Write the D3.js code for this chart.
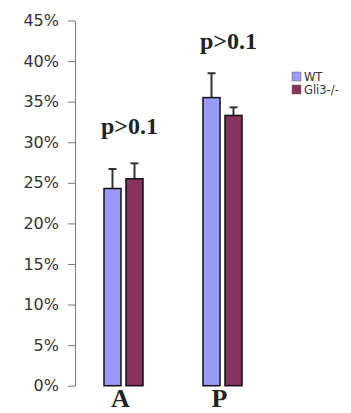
<!DOCTYPE html>
<html>
<head>
<meta charset="utf-8">
<script src="https://cdn.jsdelivr.net/npm/d3@7"></script>
<style>
  body { margin: 0; background: #fff; }
  svg { display: block; }
</style>
</head>
<body>
<div id="chart"></div>
<script>
const categories = ["A", "P"];
const groups = ["WT", "Gli3-/-"];
const wtValues = [0.243, 0.355];
const wtErrors = [0.024, 0.030];
const gliValues = [0.255, 0.333];
const gliErrors = [0.019, 0.010];
const yTicks = [0, 0.05, 0.10, 0.15, 0.20, 0.25, 0.30, 0.35, 0.40, 0.45];
const pLabels = [
    {cat: "A", text: "p>0.1", y: 0.31},
    {cat: "P", text: "p>0.1", y: 0.415}
];

const colors = ["#9b9bf7", "#88325f"];

const width = 351, height = 413;

const svg = d3.select("#chart")
    .append("svg")
    .attr("width", width)
    .attr("height", height);

const y = d3.scaleLinear()
    .domain([0, 0.45])
    .range([385.7, 20.5]);

const x = d3.scaleBand()
    .domain(categories)
    .range([74, 272])
    .paddingInner(0.606)
    .paddingOuter(0.303);

const xSub = d3.scaleBand()
    .domain(groups)
    .range([0, x.bandwidth()])
    .paddingInner(0.227);

// y axis
const yAxis = svg.append("g")
    .attr("transform", "translate(75,0)")
    .call(d3.axisLeft(y)
        .tickValues(yTicks)
        .tickFormat(d3.format(".0%"))
        .tickSizeInner(7)
        .tickSizeOuter(0)
        .tickPadding(9));

yAxis.select(".domain").attr("stroke", "#777");
yAxis.selectAll(".tick line").attr("stroke", "#777");
yAxis.selectAll(".tick text")
    .attr("fill", "#333")
    .style("font-family", "DejaVu Sans, Verdana, sans-serif")
    .style("font-size", "16px");

const rows = categories.map((c, i) => [
    {cat: c, group: groups[0], value: wtValues[i], err: wtErrors[i], color: colors[0]},
    {cat: c, group: groups[1], value: gliValues[i], err: gliErrors[i], color: colors[1]}
]).flat();

const bars = svg.selectAll(".bar")
    .data(rows)
    .enter()
    .append("g")
    .attr("class", "bar")
    .attr("transform", d => `translate(${x(d.cat) + xSub(d.group)},0)`);

// error bars (upper only), drawn behind bars
bars.append("line")
    .attr("x1", xSub.bandwidth() / 2)
    .attr("x2", xSub.bandwidth() / 2)
    .attr("y1", d => y(d.value))
    .attr("y2", d => y(d.value + d.err))
    .attr("stroke", "#333")
    .attr("stroke-width", 2);

bars.append("line")
    .attr("x1", xSub.bandwidth() / 2 - 4)
    .attr("x2", xSub.bandwidth() / 2 + 4)
    .attr("y1", d => y(d.value + d.err))
    .attr("y2", d => y(d.value + d.err))
    .attr("stroke", "#333")
    .attr("stroke-width", 2);

bars.append("rect")
    .attr("x", 0)
    .attr("y", d => y(d.value))
    .attr("width", xSub.bandwidth())
    .attr("height", d => y(0) - y(d.value))
    .attr("fill", d => d.color)
    .attr("stroke", "#111")
    .attr("stroke-width", 1.5);

// category labels
svg.selectAll(".cat")
    .data(categories)
    .enter()
    .append("text")
    .attr("class", "cat")
    .attr("x", d => x(d) + x.bandwidth() / 2 - 3)
    .attr("y", 407)
    .attr("text-anchor", "middle")
    .style("font-family", "Liberation Serif, Times New Roman, serif")
    .style("font-weight", "bold")
    .style("font-size", "26px")
    .attr("fill", "#222")
    .text(d => d);

// significance labels
svg.selectAll(".plabel")
    .data(pLabels)
    .enter()
    .append("text")
    .attr("class", "plabel")
    .attr("x", d => x(d.cat) + x.bandwidth() / 2 + 6)
    .attr("y", d => y(d.y))
    .attr("text-anchor", "middle")
    .style("font-family", "Liberation Serif, Times New Roman, serif")
    .style("font-weight", "bold")
    .style("font-size", "24px")
    .attr("fill", "#222")
    .text(d => d.text);

// legend
const legend = svg.selectAll(".legend")
    .data(groups)
    .enter()
    .append("g")
    .attr("class", "legend")
    .attr("transform", (d, i) => `translate(292,${72 + i * 13})`);

legend.append("rect")
    .attr("width", 9)
    .attr("height", 9)
    .attr("fill", (d, i) => colors[i])
    .attr("stroke", "#666")
    .attr("stroke-width", 0.5);

legend.append("text")
    .attr("x", 12)
    .attr("y", 9)
    .style("font-family", "DejaVu Sans, Verdana, sans-serif")
    .style("font-size", "11.5px")
    .attr("fill", "#333")
    .text(d => d);
</script>
</body>
</html>
